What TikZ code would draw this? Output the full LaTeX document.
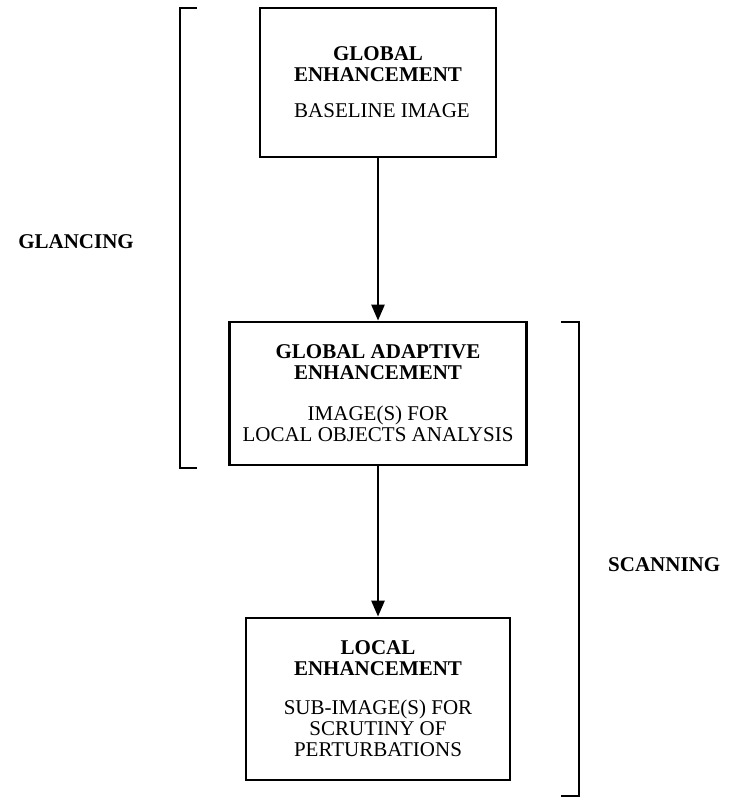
\documentclass[tikz,border=0pt]{standalone}
\usepackage{fontspec}
\setmainfont{Liberation Serif}
\usetikzlibrary{arrows.meta}
\begin{document}
\begin{tikzpicture}[x=1pt,y=-1pt,
  box/.style={draw, line width=2.8pt, align=center, inner sep=0pt,
    font=\fontsize{21}{21}\selectfont},
  flow/.style={line width=2.6pt, -{Triangle[length=16pt,width=13pt]}},
  bracket/.style={line width=2.8pt},
  lbl/.style={font=\fontsize{21}{21}\selectfont\bfseries, inner sep=0pt}]
\useasboundingbox (0,0) rectangle (732,799);
\node[box, minimum width=236pt, minimum height=149pt] (b1) at (378,82.5)
  {\bfseries GLOBAL\\\bfseries ENHANCEMENT\\[15pt] \hspace*{8pt}BASELINE IMAGE};
\node[box, minimum width=297pt, minimum height=143pt] (b2) at (378,393.5)
  {\bfseries GLOBAL ADAPTIVE\\\bfseries ENHANCEMENT\\[20pt] IMAGE(S) FOR\\ LOCAL OBJECTS ANALYSIS};
\node[box, minimum width=264pt, minimum height=162pt] (b3) at (378,699)
  {\bfseries LOCAL\\\bfseries ENHANCEMENT\\[18pt] SUB-IMAGE(S) FOR\\ SCRUTINY OF\\ PERTURBATIONS};
\draw[flow] (b1.south) -- (b2.north);
\draw[flow] (b2.south) -- (b3.north);
% left bracket (glancing)
\coordinate (gt) at (180,8);
\coordinate (gb) at (180,468);
\draw[bracket] ([xshift=17pt]gt) -- (gt) -- (gb) -- ([xshift=17pt]gb);
\node[lbl, anchor=east] (glancing) at (134,242) {GLANCING};
% right bracket (scanning)
\coordinate (st) at (579,322);
\coordinate (sb) at (579,796);
\draw[bracket] ([xshift=-18pt]st) -- (st) -- (sb) -- ([xshift=-18pt]sb);
\node[lbl, anchor=west] (scanning) at (608,565) {SCANNING};
\end{tikzpicture}
\end{document}
